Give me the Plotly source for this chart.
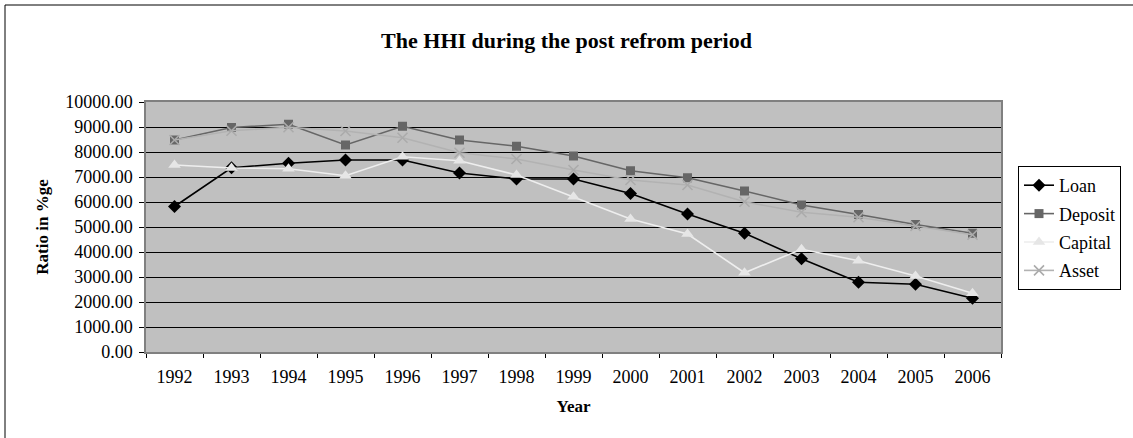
import plotly.graph_objects as go

# HHI values by year (ratio in %ge)
years = ["1992", "1993", "1994", "1995", "1996", "1997", "1998", "1999",
         "2000", "2001", "2002", "2003", "2004", "2005", "2006"]
loan = [5820, 7370, 7550, 7680, 7680, 7160, 6920, 6920,
        6340, 5520, 4750, 3730, 2790, 2710, 2150]
deposit = [8480, 8980, 9110, 8280, 9030, 8480, 8230, 7840,
           7250, 6970, 6440, 5880, 5500, 5100, 4750]
capital = [7480, 7360, 7330, 7050, 7810, 7650, 7080, 6210,
           5320, 4720, 3170, 4110, 3650, 3040, 2350]
asset = [8480, 8850, 8990, 8840, 8570, 7970, 7720, 7280,
         6880, 6680, 6010, 5590, 5390, 5040, 4690]

series = [
    ("Loan", loan, "#000000", "diamond", 10, "#000000"),
    ("Deposit", deposit, "#666666", "square", 9, "#666666"),
    ("Capital", capital, "#EEEEEE", "triangle-up", 11, "#E6E6E6"),
    ("Asset", asset, "#B2B2B2", "x-thin", 10, "#ABABAB"),
]

FONT = "Liberation Serif, Times New Roman, serif"

fig = go.Figure()
for name, vals, lcol, sym, size, mcol in series:
    marker = dict(symbol=sym, size=size, color=mcol)
    if sym == "x-thin":
        marker["line"] = dict(color=mcol, width=1.6)
    else:
        marker["line"] = dict(width=0)
    fig.add_trace(go.Scatter(
        x=years, y=vals, name=name, mode="lines+markers",
        line=dict(color=lcol, width=1.6), marker=marker,
        legendgroup=name,
    ))

# plot-area geometry (pixels)
W, H = 1133, 438
L, R, T, B = 146, 1001, 102, 352
pw, ph = R - L, B - T

fig.update_layout(
    width=W, height=H,
    margin=dict(l=L, r=W - R, t=T, b=H - B),
    paper_bgcolor="white",
    plot_bgcolor="#C0C0C0",
    font=dict(family=FONT, size=18, color="black"),
    title=dict(
        text="<b>The HHI during the post refrom period</b>",
        x=0.5, xref="container", xanchor="center",
        y=1 - 40 / H, yref="container", yanchor="middle",
        font=dict(family=FONT, size=22, color="black"),
    ),
    showlegend=True,
    legend=dict(
        x=(1018 - L) / pw, xanchor="left",
        y=(B - 166) / ph, yanchor="top",
        bgcolor="white", bordercolor="black", borderwidth=1,
        font=dict(family=FONT, size=18, color="black"),
        tracegroupgap=2,
        itemwidth=30,
    ),
    shapes=[
        dict(type="rect", xref="paper", yref="paper",
             x0=(5 - L) / pw, x1=(W + 20 - L) / pw,
             y0=(B - (H + 20)) / ph, y1=(B - 5) / ph,
             line=dict(color="black", width=1), fillcolor="rgba(0,0,0,0)",
             layer="below"),
    ],
)

fig.update_xaxes(
    type="category",
    range=[-0.5, len(years) - 0.5],
    tickson="boundaries",
    ticks="outside", ticklen=4, tickcolor="black",
    ticklabelstandoff=8,
    showline=True, linecolor="#808080", linewidth=1.5, mirror=True,
    showgrid=False,
    tickfont=dict(family=FONT, size=18),
    title=dict(text="<b>Year</b>", font=dict(family=FONT, size=17), standoff=14),
)

fig.update_yaxes(
    range=[0, 10000], dtick=1000, tick0=0,
    tickformat=".2f",
    ticks="outside", ticklen=5, tickcolor="black",
    ticklabelstandoff=3,
    showline=True, linecolor="#808080", linewidth=1.5, mirror=True,
    showgrid=True, gridcolor="black", gridwidth=1,
    zeroline=False,
    tickfont=dict(family=FONT, size=18),
    title=dict(text="<b>Ratio in %ge</b>", font=dict(family=FONT, size=17), standoff=12),
)

fig.write_html("out.html")
